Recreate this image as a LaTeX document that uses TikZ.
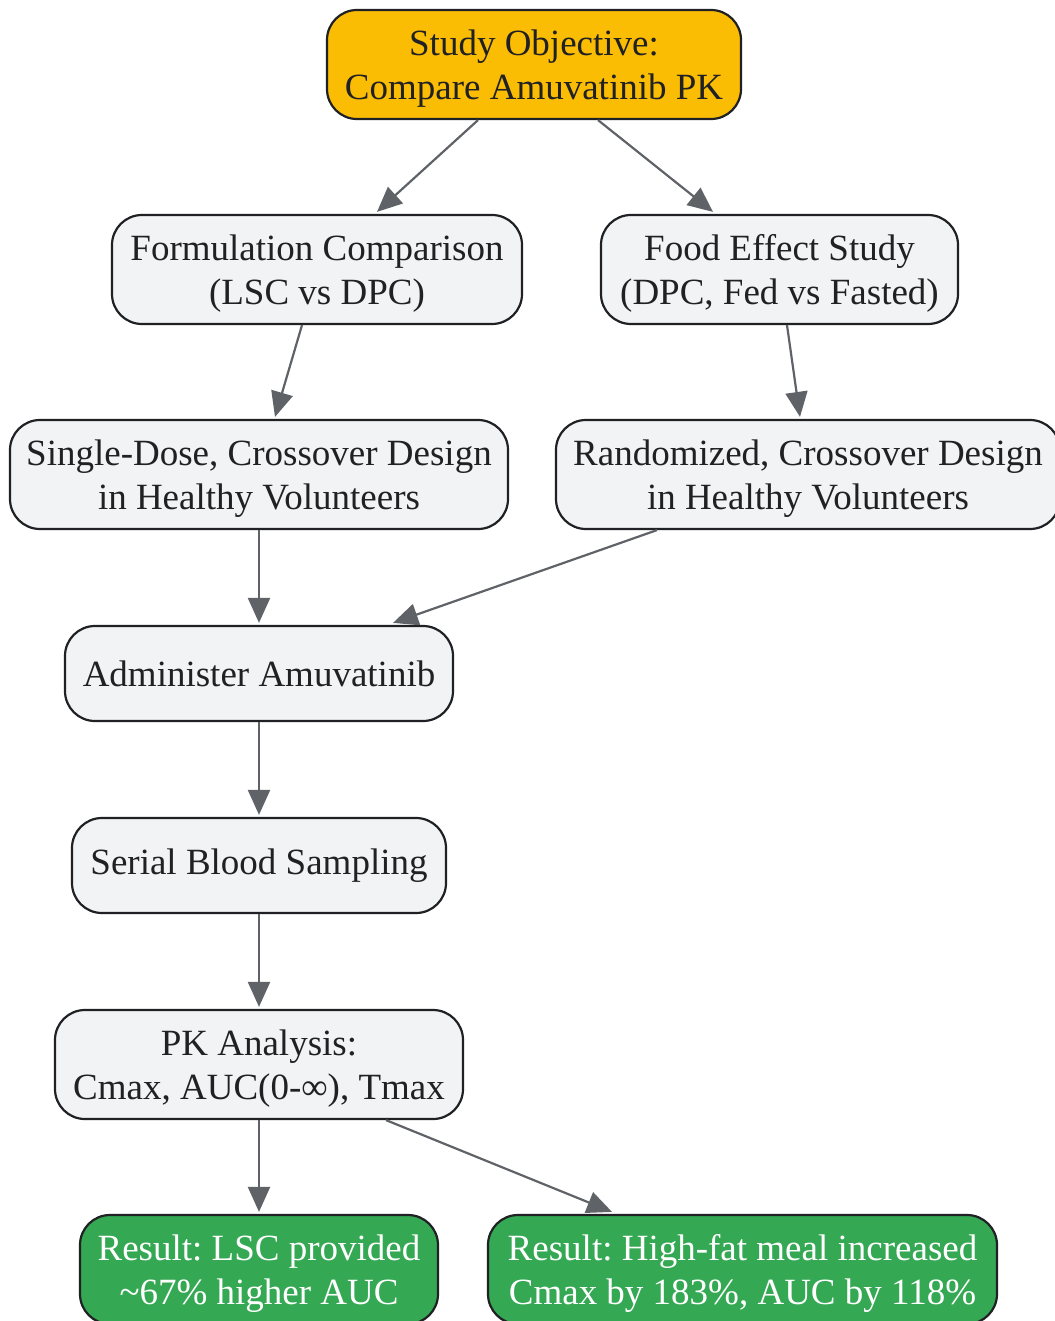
\documentclass[tikz,border=0pt]{standalone}
\usepackage{fontspec}
\setmainfont{Liberation Serif}
\frenchspacing
\usetikzlibrary{arrows.meta}
\definecolor{ink}{HTML}{202124}
\definecolor{edge}{HTML}{5F6368}
\definecolor{boxgray}{HTML}{F1F3F4}
\definecolor{goldfill}{HTML}{FBBC04}
\definecolor{greenfill}{HTML}{34A853}
\newcommand\twolines[2]{\begin{tabular}{@{}c@{}}\rule{0pt}{40pt}#1\\#2\end{tabular}}
\tikzset{
  box/.style={draw=ink, line width=2.2pt, rounded corners=30pt, fill=boxgray,
    text=ink, inner sep=0pt,
    font=\fontsize{37}{44}\selectfont},
  twoline/.style={box, minimum height=109pt},
  oneline/.style={box, minimum height=95pt},
  goalbox/.style={twoline, fill=goldfill},
  resbox/.style={twoline, fill=greenfill, text=white},
  conn/.style={draw=edge, line width=2.2pt, -{Triangle[length=25pt,width=22pt]}}
}
\begin{document}
\begin{tikzpicture}[x=1pt,y=1pt]
\useasboundingbox (0,0) rectangle (1054,-1321);
\node[goalbox, minimum width=414pt] (obj) at (534,-64.5) {\twolines{Study Objective:}{Compare Amuvatinib PK}};
\node[twoline, minimum width=410pt] (form) at (317,-269.5) {\twolines{Formulation Comparison}{(LSC vs DPC)}};
\node[twoline, minimum width=357pt] (food) at (779.5,-269.5) {\twolines{Food Effect Study}{(DPC, Fed vs Fasted)}};
\node[twoline, minimum width=498pt] (single) at (259,-474.5) {\twolines{Single-Dose, Crossover Design}{in Healthy Volunteers}};
\node[twoline, minimum width=504pt] (rand) at (808,-474.5) {\twolines{Randomized, Crossover Design}{in Healthy Volunteers}};
\node[oneline, minimum width=388pt] (admin) at (259,-673.5) {Administer Amuvatinib};
\node[oneline, minimum width=374pt] (serial) at (259,-865.5) {Serial Blood Sampling};
\node[twoline, minimum width=408pt] (pk) at (259,-1064.5) {\twolines{PK Analysis:}{Cmax, AUC(0-∞), Tmax}};
\node[resbox, minimum width=358pt] (r1) at (259,-1269.5) {\twolines{Result: LSC provided}{\textasciitilde67\% higher AUC}};
\node[resbox, minimum width=509pt] (r2) at (742.5,-1269.5) {\twolines{Result: High-fat meal increased}{Cmax by 183\%, AUC by 118\%}};
\draw[conn] ([xshift=-56pt]obj.south) -- ([xshift=60pt,yshift=2pt]form.north);
\draw[conn] ([xshift=64pt]obj.south) -- ([xshift=-66.5pt,yshift=2pt]food.north);
\draw[conn] ([xshift=-15pt]form.south) -- ([xshift=16pt,yshift=2pt]single.north);
\draw[conn] ([xshift=7.5pt]food.south) -- ([xshift=-8pt,yshift=2pt]rand.north);
\draw[conn] (single.south) -- ([yshift=2pt]admin.north);
\draw[conn] ([xshift=-151pt]rand.south) -- ([xshift=134pt,yshift=2pt]admin.north);
\draw[conn] (admin.south) -- ([yshift=2pt]serial.north);
\draw[conn] (serial.south) -- ([yshift=2pt]pk.north);
\draw[conn] (pk.south) -- ([yshift=2pt]r1.north);
\draw[conn] ([xshift=127pt]pk.south) -- ([xshift=-130.5pt,yshift=2pt]r2.north);
\end{tikzpicture}
\end{document}
